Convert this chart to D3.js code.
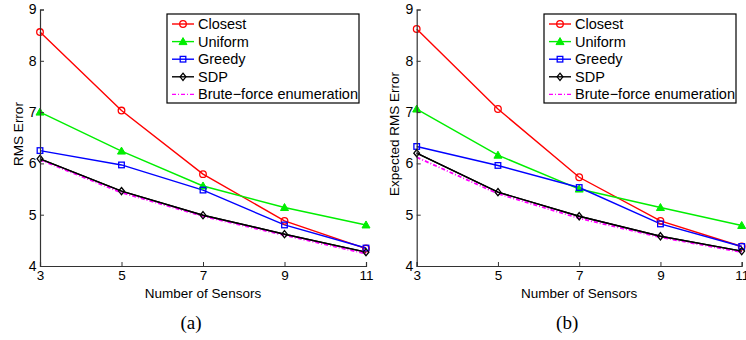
<!DOCTYPE html>
<html><head><meta charset="utf-8">
<script src="https://cdn.jsdelivr.net/npm/d3@7"></script>
<style>body{margin:0;background:#fff}svg{display:block}</style>
</head><body>
<svg id="c" width="746" height="340"></svg>
<script>
const sensors = [3, 5, 7, 9, 11];
const yTicks = [4, 5, 6, 7, 8, 9];
const seriesNames = ["Closest", "Uniform", "Greedy", "SDP", "Brute\u2212force enumeration"];
// Panel (a): RMS Error
const closestA = [8.56, 7.03, 5.79, 4.88, 4.34];
const uniformA = [7.00, 6.24, 5.56, 5.14, 4.80];
const greedyA  = [6.25, 5.97, 5.48, 4.80, 4.35];
const sdpA     = [6.09, 5.46, 4.99, 4.62, 4.27];
const bruteA   = [6.07, 5.43, 4.97, 4.60, 4.24];
// Panel (b): Expected RMS Error
const closestB = [8.62, 7.06, 5.73, 4.88, 4.38];
const uniformB = [7.06, 6.16, 5.50, 5.14, 4.79];
const greedyB  = [6.33, 5.96, 5.53, 4.82, 4.38];
const sdpB     = [6.20, 5.44, 4.97, 4.58, 4.29];
const bruteB   = [6.12, 5.41, 4.93, 4.56, 4.27];

const styles = [
  {color:"#ff0000", marker:"circle", dash:null},
  {color:"#00ee00", marker:"triangle", dash:null},
  {color:"#0000ff", marker:"square", dash:null},
  {color:"#000000", marker:"diamond", dash:null},
  {color:"#ff00ff", marker:null, dash:"4,2,1,2"}
];

const svg = d3.select("#c");
const font = "'Liberation Sans', Arial, sans-serif";

function marker(g, type, x, y, color){
  if(type==="circle"){
    g.append("circle").attr("cx",x).attr("cy",y).attr("r",3.3)
      .attr("fill","none").attr("stroke",color).attr("stroke-width",1.3);
  } else if(type==="triangle"){
    const s=4;
    g.append("path").attr("d",`M${x},${y-s}L${x+s},${y+s*0.75}L${x-s},${y+s*0.75}Z`)
      .attr("fill",color).attr("stroke",color).attr("stroke-width",1);
  } else if(type==="square"){
    g.append("rect").attr("x",x-2.8).attr("y",y-2.8).attr("width",5.6).attr("height",5.6)
      .attr("fill","none").attr("stroke",color).attr("stroke-width",1.3);
  } else if(type==="diamond"){
    const s=3.6;
    g.append("path").attr("d",`M${x},${y-s}L${x+s*0.8},${y}L${x},${y+s}L${x-s*0.8},${y}Z`)
      .attr("fill","none").attr("stroke",color).attr("stroke-width",1.3);
  }
}

function panel(x0, x1, ylabel, data, caption, legendX, ylabX){
  const x = d3.scaleLinear().domain([3,11]).range([x0,x1]);
  const y = d3.scaleLinear().domain([4,9]).range([266,9.5]);
  const g = svg.append("g");

  data.forEach((vals,i)=>{
    const st = styles[i];
    const line = d3.line().x((d,j)=>x(sensors[j])).y(d=>y(d));
    g.append("path").datum(vals).attr("d",line).attr("fill","none")
      .attr("stroke",st.color).attr("stroke-width",st.dash?1.8:1.4)
      .attr("stroke-dasharray",st.dash);
  });
  const lineS = d3.line().x((d,j)=>x(sensors[j])).y(d=>y(d));
  g.append("path").datum(data[3]).attr("d",lineS).attr("fill","none").attr("stroke","#000").attr("stroke-width",1.4);
  data.forEach((vals,i)=>{
    const st = styles[i];
    if(!st.marker) return;
    vals.forEach((v,j)=>marker(g, st.marker, x(sensors[j]), y(v), st.color));
  });

  const ya = d3.axisLeft(y).tickValues(yTicks).tickSize(-4).tickPadding(3.5).tickFormat(d3.format("d"));
  const yg = g.append("g").attr("transform",`translate(${x0},0)`).call(ya);
  const xa = d3.axisBottom(x).tickValues(sensors).tickSize(-4).tickPadding(4).tickFormat(d3.format("d"));
  const xg = g.append("g").attr("transform",`translate(0,266)`).call(xa);
  [yg,xg].forEach(a=>{
    a.select(".domain").attr("stroke","#333").attr("stroke-width",1.2);
    a.selectAll(".tick line").attr("stroke","#333");
  });
  yg.selectAll("text").attr("font-family",font).attr("font-size",14).attr("fill","#000");
  xg.selectAll("text").attr("font-family",font).attr("font-size",13.5).attr("fill","#000");

  g.append("text").attr("transform",`translate(${ylabX},${134}) rotate(-90)`)
    .attr("text-anchor","middle").attr("font-family",font).attr("font-size",13.5).text(ylabel);
  g.append("text").attr("x",(x0+x1)/2).attr("y",297.5).attr("text-anchor","middle")
    .attr("font-family",font).attr("font-size",13.5).text("Number of Sensors");
  g.append("text").attr("x",(x0+x1)/2-12).attr("y",329).attr("text-anchor","middle")
    .attr("font-family","'Liberation Serif', 'Times New Roman', serif").attr("font-size",19).text(caption);

  const lg = g.append("g").attr("transform",`translate(${legendX},14)`);
  lg.append("rect").attr("x",0).attr("y",0).attr("width",192).attr("height",89)
    .attr("fill","#fff").attr("stroke","#000").attr("stroke-width",1.2);
  seriesNames.forEach((n,i)=>{
    const st = styles[i];
    const yy = 10 + i*17.6;
    lg.append("line").attr("x1",5).attr("x2",27).attr("y1",yy).attr("y2",yy)
      .attr("stroke",st.color).attr("stroke-width",1.4).attr("stroke-dasharray",st.dash);
    if(st.marker) marker(lg, st.marker, 16, yy, st.color);
    lg.append("text").attr("x",31).attr("y",yy+5).attr("font-family",font)
      .attr("font-size",14.5).text(n);
  });
}

panel(40, 366, "RMS Error", [closestA, uniformA, greedyA, sdpA, bruteA], "(a)", 167, 22.5);
panel(416.7, 741.7, "Expected RMS Error", [closestB, uniformB, greedyB, sdpB, bruteB], "(b)", 544, 399);
</script>
</body></html>
